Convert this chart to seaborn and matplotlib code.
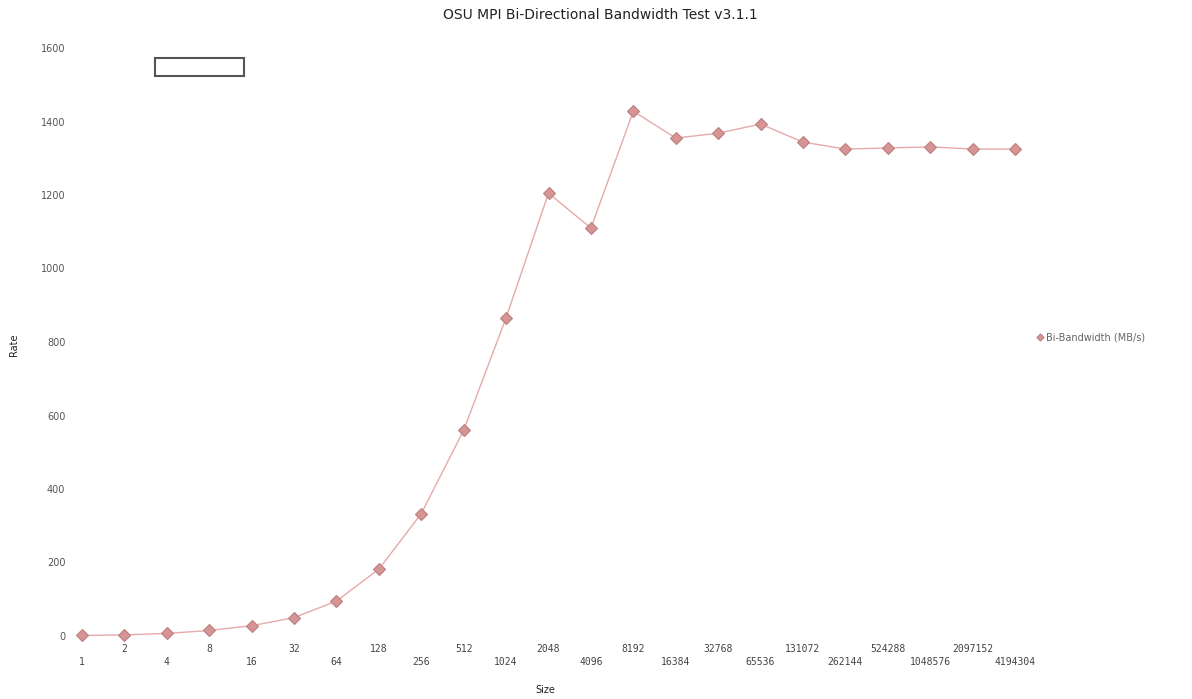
import matplotlib
matplotlib.use("Agg")
import matplotlib.pyplot as plt
import seaborn as sns
import pandas as pd
from matplotlib.patches import Rectangle

sizes = ["1", "2", "4", "8", "16", "32", "64", "128", "256", "512", "1024", "2048",
         "4096", "8192", "16384", "32768", "65536", "131072", "262144", "524288",
         "1048576", "2097152", "4194304"]
rate = [1.5, 3, 7, 15, 28, 50, 95, 182, 333, 560, 866, 1205,
        1110, 1428, 1355, 1368, 1393, 1344, 1325, 1328, 1331, 1325, 1325]

df = pd.DataFrame({"pos": range(len(sizes)), "Size": sizes, "Rate": rate})

sns.set_style("white")
plt.rcParams['font.family'] = ['DejaVu Sans']

fig = plt.figure(figsize=(11.92, 6.99), dpi=100)
W, H = 1192, 699
# axes from x=82..1015 px, y=48..636 px
ax = fig.add_axes([82 / W, 1 - 636 / H, (1015 - 82) / W, (636 - 48) / H])

sns.lineplot(data=df, x="pos", y="Rate", ax=ax, color="#e6aaaa", linewidth=1.0,
             marker="D", markersize=6, markerfacecolor="#d69494",
             markeredgecolor="#bb8080", markeredgewidth=0.8,
             label="Bi-Bandwidth (MB/s)", clip_on=False)

ax.set_xlim(0, len(sizes) - 1)
ax.set_ylim(0, 1600)
for s in ax.spines.values():
    s.set_visible(False)

ax.set_yticks(range(0, 1601, 200))
ax.set_yticklabels([str(v) for v in range(0, 1601, 200)], fontsize=7, color="#555555")
ax.tick_params(axis="y", length=0, pad=12)

ax.set_xticks(df["pos"])
ax.set_xticklabels([])
ax.tick_params(axis="x", length=0)
for i, lab in enumerate(sizes):
    dy = -13 if i % 2 == 1 else -26
    ax.annotate(lab, xy=(i, 0), xycoords=("data", "axes fraction"),
                xytext=(0, dy), textcoords="offset pixels",
                ha="center", va="center", fontsize=7, color="#444444",
                family="DejaVu Sans Mono")

ax.set_xlabel("")
ax.set_ylabel("")
fig.text(545 / W, 1 - 690 / H, "Size", fontsize=7, ha="center", va="center", color="#222222")
fig.text(14 / W, 1 - 345 / H, "Rate", fontsize=7, ha="center", va="center",
         rotation=90, color="#222222")
fig.text(600 / W, 1 - 15 / H, "OSU MPI Bi-Directional Bandwidth Test v3.1.1",
         fontsize=10, ha="center", va="center", color="#222222")

ax.legend(loc="center left", bbox_to_anchor=(1028 / W, 1 - 337 / H),
          bbox_transform=fig.transFigure, frameon=False, fontsize=7,
          handlelength=0.6, handletextpad=0.3, markerscale=0.6,
          labelcolor="#666666")

# small empty box near top-left
fig.patches.append(Rectangle((155 / W, 1 - 76 / H), 89 / W, 18 / H,
                             transform=fig.transFigure, fill=False,
                             edgecolor="#555555", linewidth=1.5))

fig.savefig("out.png", dpi=100)
